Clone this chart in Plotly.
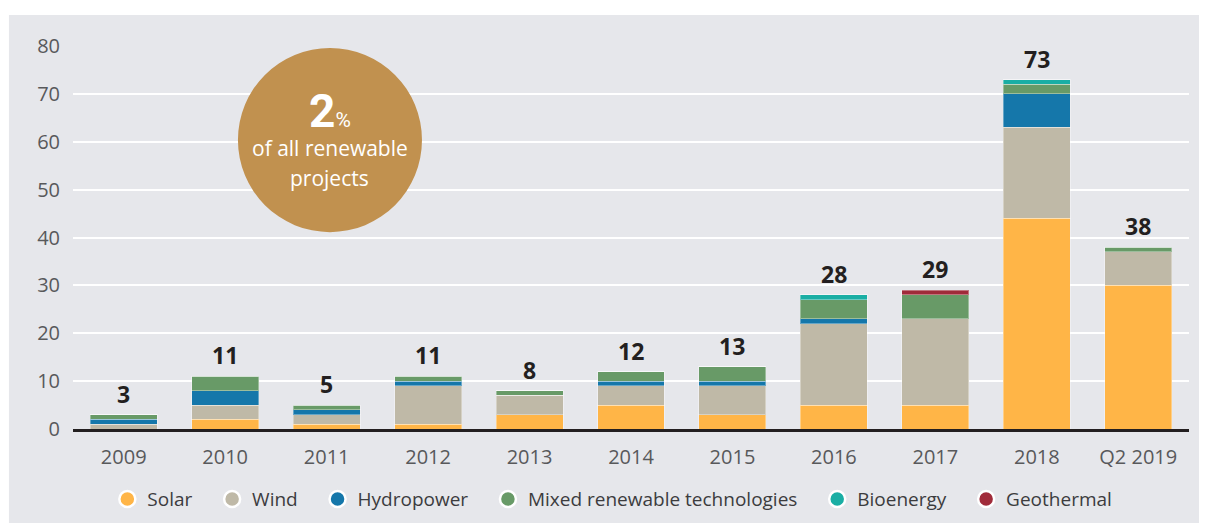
import plotly.graph_objects as go

# categories and stacked values (number of projects)
years = ['2009', '2010', '2011', '2012', '2013', '2014', '2015', '2016', '2017', '2018', 'Q2 2019']
solar = [0, 2, 1, 1, 3, 5, 3, 5, 5, 44, 30]
wind = [1, 3, 2, 8, 4, 4, 6, 17, 18, 19, 7]
hydropower = [1, 3, 1, 1, 0, 1, 1, 1, 0, 7, 0]
mixed = [1, 3, 1, 1, 1, 2, 3, 4, 5, 2, 1]
bioenergy = [0, 0, 0, 0, 0, 0, 0, 1, 0, 1, 0]
geothermal = [0, 0, 0, 0, 0, 0, 0, 0, 1, 0, 0]

series = [
    ('Solar', solar, '#FFB547'),
    ('Wind', wind, '#BFB9A7'),
    ('Hydropower', hydropower, '#1577AA'),
    ('Mixed renewable technologies', mixed, '#689A67'),
    ('Bioenergy', bioenergy, '#1AAEA4'),
    ('Geothermal', geothermal, '#A02B3A'),
]

totals = [sum(v) for v in zip(*[s[1] for s in series])]

BG = '#E6E7EB'
FONT = 'Open Sans'

fig = go.Figure()

for name, vals, col in series:
    fig.add_trace(go.Bar(
        x=years, y=vals, name=name, marker_color=col,
        marker_line=dict(color='rgba(255,255,255,0.35)', width=1),
        showlegend=False,
    ))

# legend entries with round markers (trailing spaces widen the gaps between items)
for name, vals, col in series:
    fig.add_trace(go.Scatter(
        x=[None], y=[None], mode='markers', name=name + '\u00a0\u00a0\u00a0',
        marker=dict(symbol='circle', size=18, color=col, line=dict(color='white', width=2.5)),
    ))

# total labels above each bar (x as category index, '2009' would be read as a number)
labels = [
    dict(x=i, y=t, text='<b>%d</b>' % t, showarrow=False, yanchor='middle', yshift=21,
         font=dict(family=FONT, size=23, color='#231F20'))
    for i, t in enumerate(totals)
]

circle_x = 0.2302
labels += [
    dict(xref='paper', yref='paper', x=circle_x, y=(429 - 111) / 383, showarrow=False,
         text="<b><span style='font-size:46px'>2</span></b><span style='font-size:21px'>%</span>",
         font=dict(family='Roboto', color='white'), xanchor='center', yanchor='middle'),
    dict(xref='paper', yref='paper', x=circle_x, y=(429 - 148) / 383, showarrow=False,
         text='of all renewable', font=dict(family=FONT, size=21, color='white'),
         xanchor='center', yanchor='middle'),
    dict(xref='paper', yref='paper', x=circle_x, y=(429 - 178) / 383, showarrow=False,
         text='projects', font=dict(family=FONT, size=21, color='white'),
         xanchor='center', yanchor='middle'),
]

fig.update_layout(
    width=1207, height=523,
    margin=dict(l=65, r=26, t=38, b=102),
    paper_bgcolor='white',
    plot_bgcolor=BG,
    barmode='stack',
    bargap=0.34,
    font=dict(family=FONT, color='#58595B'),
    legend=dict(
        orientation='h', traceorder='normal',
        x=0.49, xanchor='center', y=-0.183, yanchor='middle',
        font=dict(family=FONT, size=19, color='#3C3C3E'),
        bgcolor='rgba(0,0,0,0)', itemwidth=30,
    ),
    shapes=[
        # grey panel behind whole chart
        dict(type='rect', xref='paper', yref='paper', x0=-0.0574, x1=1.05, y0=-0.3, y1=1.081,
             fillcolor=BG, line=dict(width=0), layer='below'),
        # callout circle
        dict(type='circle', xref='paper', yref='paper', x0=0.1478, x1=0.3127, y0=0.514, y1=0.995,
             fillcolor='#C1914F', line=dict(width=0), layer='above'),
    ],
    annotations=labels,
)

fig.update_xaxes(
    type='category',
    showgrid=False, showline=True, linecolor='#231F20', linewidth=2.5,
    ticks='outside', ticklen=8, tickcolor='rgba(0,0,0,0)',
    tickfont=dict(family=FONT, size=20, color='#58595B'),
)
fig.update_yaxes(
    range=[0, 80], dtick=10, showgrid=True, gridcolor='white', gridwidth=1.5,
    zeroline=False, ticks='outside', ticklen=8, tickcolor='rgba(0,0,0,0)',
    tickfont=dict(family=FONT, size=20, color='#58595B'),
)

fig.write_html('out.html')
